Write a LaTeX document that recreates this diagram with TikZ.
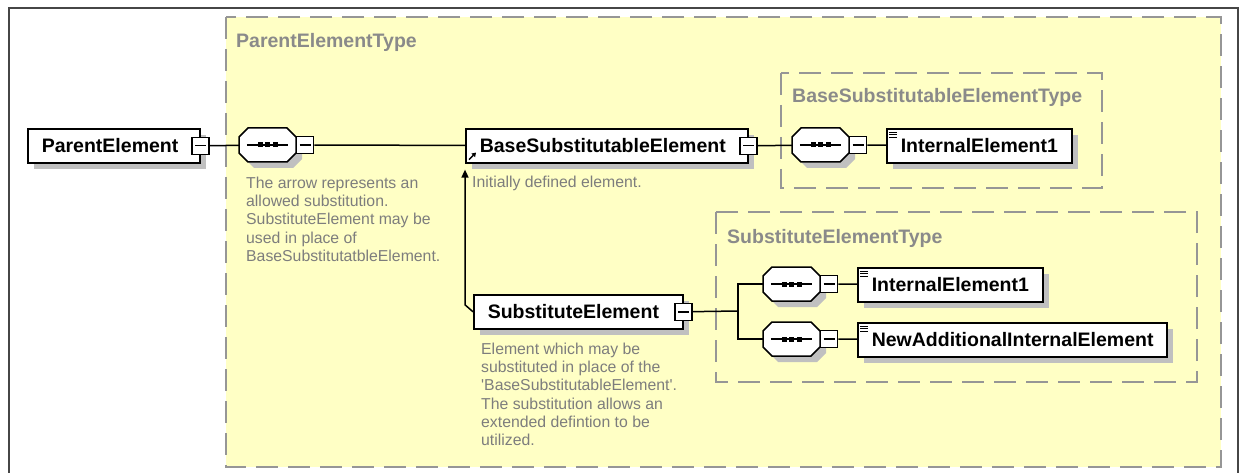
\documentclass[tikz,border=0pt]{standalone}
\usepackage{fontspec}
\setmainfont{Liberation Sans}
\usetikzlibrary{shadows,arrows.meta}
\definecolor{yellowbg}{RGB}{255,255,197}
\definecolor{dashgray}{RGB}{150,150,150}
\definecolor{titlegray}{RGB}{138,138,138}
\definecolor{descgray}{RGB}{125,125,125}
\definecolor{shadowc}{RGB}{192,192,192}
\definecolor{framec}{RGB}{70,70,70}
\newcommand\elemfont{\fontsize{19.5}{22}\selectfont\bfseries}
\newcommand\descfont{\fontsize{15.8}{18.3}\selectfont}
\newcommand\elembox[5]{% name, x, y, width, text
  \node[elemst, minimum width=#4] (#1) at (#2,#3) {\makebox[\dimexpr#4pt-28pt\relax][l]{#5}};
}
\newcommand\elemminus[1]{\node[minbox] (#1m) at (#1.east) {};}
\newcommand\lines[1]{% icon of an element with content
  \foreach \yy in {4,6.5,9} \draw[line width=0.9] ([shift={(3,\yy)}]#1.north west) -- ++(8,0);
}
\newcommand\seqgrp[3]{% name, left x, top y
  \fill[shadowc, shift={(#2+6,#3+6)}] (9,0) -- (48,0) -- (57,9) -- (57,25) -- (48,34) -- (9,34) -- (0,25) -- (0,9) -- cycle;
  \draw[line width=1.5, fill=white, shift={(#2,#3)}] (9,0) -- (48,0) -- (57,9) -- (57,25) -- (48,34) -- (9,34) -- (0,25) -- (0,9) -- cycle;
  \node[seqhold] (#1) at (#2+28.5,#3+17) {};
  \draw[line width=1.4] ([xshift=8pt]#1.west) -- ([xshift=-8pt]#1.east);
  \foreach \dd in {-7.5,0,7.5} \fill ([xshift=\dd pt]#1.center) +(-2.5,-2.5) rectangle +(2.5,2.5);
  \node[minbox] (#1m) at ([xshift=9pt]#1.east) {};
}
\begin{document}
\begin{tikzpicture}[x=1pt,y=-1pt,
  elemst/.style={draw=black, line width=1.6, fill=white, anchor=north west,
    minimum height=34, inner xsep=14, inner ysep=0, font=\elemfont,
    general shadow={fill=shadowc, shadow xshift=6pt, shadow yshift=-6pt}},
  minbox/.style={draw=black, line width=1.4, fill=white, minimum size=17, inner sep=0,
    path picture={\draw[line width=1.4] ([xshift=3pt]path picture bounding box.west) -- ([xshift=-3pt]path picture bounding box.east);}},
  seqhold/.style={draw=none, minimum width=57, minimum height=34, inner sep=0},
  dbox/.style={draw=dashgray, line width=1.8, dash pattern=on 22pt off 10pt},
  ttl/.style={anchor=base west, inner sep=0, text=titlegray, font=\elemfont},
  desc/.style={anchor=north west, inner sep=0, text=descgray, font=\descfont, align=left},
  conn/.style={draw=black, line width=1.5},
]
\clip (0,0) rectangle (1247,473);
\fill[white] (0,0) rectangle (1247,473);
% outer frame
\draw[framec, line width=2] (9,490) -- (9,8) -- (1238,8) -- (1238,490);
% type containers
\fill[yellowbg] (226,17) rectangle (1221,467);
\draw[dbox] (226,17) rectangle (1221,467);
\draw[dbox] (781,73) rectangle (1102,188);
\draw[dbox] (716,212) rectangle (1197,382);
\node[ttl] (t1) at (236,48) {ParentElementType};
\node[ttl] (t2) at (792,103) {BaseSubstitutableElementType};
\node[ttl] (t3) at (727,243) {SubstituteElementType};
% elements
\elembox{pe}{27}{128}{172}{ParentElement}
\elemminus{pe}
\seqgrp{s1}{239}{128}
\elembox{base}{465}{128}{282}{BaseSubstitutableElement}
\elemminus{base}
\draw[line width=1.4, -{Triangle[length=4pt,width=5pt]}] ([shift={(4,-4)}]base.south west) -- ++(7,-7);
\seqgrp{s2}{792}{128}
\elembox{ie}{886}{128}{185}{InternalElement1}
\lines{ie}
\elembox{sub}{473}{294}{209}{SubstituteElement}
\elemminus{sub}
\seqgrp{s3}{763}{267}
\seqgrp{s4}{763}{322}
\elembox{ieb}{857}{267}{185}{InternalElement1}
\lines{ieb}
\elembox{nie}{857}{322}{309}{NewAdditionalInternalElement}
\lines{nie}
% descriptions
\node[desc] (d1) at (246,176.5) {The arrow represents an\\allowed substitution.\\SubstituteElement may be\\used in place of\\BaseSubstitutatbleElement.};
\node[desc] (d2) at (472,175.5) {Initially defined element.};
\node[desc] (d3) at (481,342.5) {Element which may be\\substituted in place of the\\\textquotesingle BaseSubstitutableElement\textquotesingle.\\The substitution allows an\\extended defintion to be\\utilized.};
% connectors
\draw[conn] (pem) -- (s1);
\draw[conn] (s1m) -- (base);
\draw[conn] (basem) -- (s2);
\draw[conn] (s2m) -- (ie);
\draw[conn] (s3m) -- (ieb);
\draw[conn] (s4m) -- (nie);
\coordinate (br) at (738,311);
\draw[conn] (subm) -- (br);
\draw[conn] (s3.west) -| (br) |- (s4.west);
\draw[conn, -{Triangle[length=8pt,width=7pt]}] (sub.west) -- ++(-8,-7) -- ([yshift=-6pt]base.south west);
\end{tikzpicture}
\end{document}
